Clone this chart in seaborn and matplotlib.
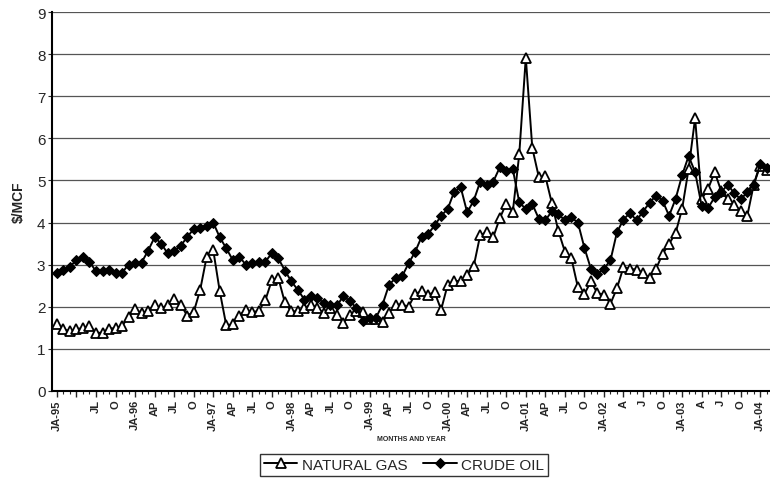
import matplotlib
matplotlib.use("Agg")
import matplotlib.pyplot as plt
import seaborn as sns
import pandas as pd

# monthly prices, Jan 1995 .. Feb 2004 ($/MCF)
natural_gas = [
    1.58, 1.46, 1.42, 1.46, 1.50, 1.54, 1.38, 1.38, 1.48, 1.49, 1.54, 1.76,
    1.95, 1.84, 1.90, 2.03, 1.96, 2.03, 2.19, 2.05, 1.79, 1.87, 2.40, 3.19,
    3.35, 2.37, 1.56, 1.58, 1.79, 1.93, 1.87, 1.90, 2.15, 2.63, 2.68, 2.10,
    1.89, 1.89, 1.97, 2.05, 1.97, 1.84, 1.97, 1.80, 1.62, 1.80, 1.90, 1.87,
    1.70, 1.70, 1.64, 1.86, 2.05, 2.05, 2.00, 2.30, 2.37, 2.29, 2.34, 1.93,
    2.52, 2.62, 2.60, 2.76, 2.96, 3.70, 3.77, 3.65, 4.10, 4.45, 4.25, 5.63,
    7.92, 5.77, 5.08, 5.10, 4.46, 3.80, 3.31, 3.15, 2.46, 2.30, 2.60, 2.32,
    2.29, 2.07, 2.44, 2.94, 2.90, 2.88, 2.80, 2.68, 2.90, 3.25, 3.49, 3.75,
    4.32, 5.27, 6.48, 4.56, 4.80, 5.20, 4.75, 4.55, 4.42, 4.28, 4.15, 4.90,
    5.35, 5.25,
]
crude_oil = [
    2.81, 2.88, 2.94, 3.12, 3.19, 3.07, 2.84, 2.84, 2.88, 2.80, 2.81, 3.00,
    3.03, 3.05, 3.33, 3.65, 3.50, 3.27, 3.33, 3.45, 3.65, 3.85, 3.88, 3.92,
    4.00, 3.65, 3.39, 3.11, 3.19, 3.00, 3.03, 3.07, 3.07, 3.27, 3.15, 2.86,
    2.60, 2.40, 2.17, 2.25, 2.20, 2.09, 2.05, 2.03, 2.25, 2.13, 1.97, 1.66,
    1.74, 1.74, 2.05, 2.52, 2.68, 2.72, 3.03, 3.30, 3.66, 3.73, 3.93, 4.16,
    4.32, 4.73, 4.84, 4.24, 4.52, 4.97, 4.89, 4.97, 5.31, 5.23, 5.27, 4.48,
    4.32, 4.44, 4.09, 4.05, 4.27, 4.20, 4.05, 4.12, 4.00, 3.40, 2.90, 2.78,
    2.90, 3.10, 3.77, 4.07, 4.23, 4.05, 4.26, 4.47, 4.64, 4.52, 4.16, 4.56,
    5.12, 5.58, 5.20, 4.40, 4.35, 4.60, 4.72, 4.90, 4.70, 4.55, 4.72, 4.90,
    5.40, 5.30,
]
tick_labels = [
    "JA-95", "", "JL", "O",
    "JA-96", "AP", "JL", "O",
    "JA-97", "AP", "JL", "O",
    "JA-98", "AP", "JL", "O",
    "JA-99", "AP", "JL", "O",
    "JA-00", "AP", "JL", "O",
    "JA-01", "AP", "JL", "O",
    "JA-02", "A", "J", "O",
    "JA-03", "A", "J", "O",
    "JA-04",
]

df = pd.DataFrame({"month": range(len(natural_gas)),
                   "NATURAL GAS": natural_gas,
                   "CRUDE OIL": crude_oil})

sns.set_style("white")
plt.rcParams["font.family"] = ["Liberation Sans", "DejaVu Sans"]

fig = plt.figure(figsize=(7.7, 4.85), dpi=100)
ax = fig.add_axes([0.068, 0.192, 0.932, 0.781])

sns.lineplot(data=df, x="month", y="NATURAL GAS", ax=ax, color="black",
             lw=1.4, marker="^", markersize=7.5, markerfacecolor="white",
             markeredgecolor="black", markeredgewidth=1.3,
             label="NATURAL GAS")
sns.lineplot(data=df, x="month", y="CRUDE OIL", ax=ax, color="black",
             lw=1.4, marker="D", markersize=5.5, markerfacecolor="black",
             markeredgecolor="black", label="CRUDE OIL")

ax.set_ylim(0, 9)
ax.set_xlim(-0.7, 109.5)
ax.set_yticks(range(10))
ax.yaxis.grid(True, color="#555555", lw=0.9)
ax.set_xticks(range(0, 3 * len(tick_labels), 3))
ax.set_xticklabels(tick_labels, rotation=90, fontsize=8, fontweight="bold")
ax.set_xticks(range(0, 110), minor=True)
ax.tick_params(axis="x", which="major", direction="out", length=4, width=1,
               bottom=True, pad=2)
ax.tick_params(axis="x", which="minor", direction="out", length=2.5, width=0.8,
               bottom=True)
ax.tick_params(axis="y", labelsize=11, length=3, left=True, pad=2)

for side in ["top", "right"]:
    ax.spines[side].set_visible(False)
for side in ["left", "bottom"]:
    ax.spines[side].set_color("black")
    ax.spines[side].set_linewidth(1.5)

ax.set_ylabel("$/MCF", fontsize=10, fontweight="bold", labelpad=8)
ax.set_xlabel("MONTHS AND YEAR", fontsize=5, fontweight="bold", labelpad=4)

leg = ax.legend(loc="center", bbox_to_anchor=(0.49, -0.195), ncol=2,
                frameon=True, fancybox=False, edgecolor="black",
                fontsize=11, handlelength=2.2, columnspacing=1.0,
                borderpad=0.25, handletextpad=0.3)
leg.get_frame().set_linewidth(1.0)

fig.savefig("out.png", dpi=100)
